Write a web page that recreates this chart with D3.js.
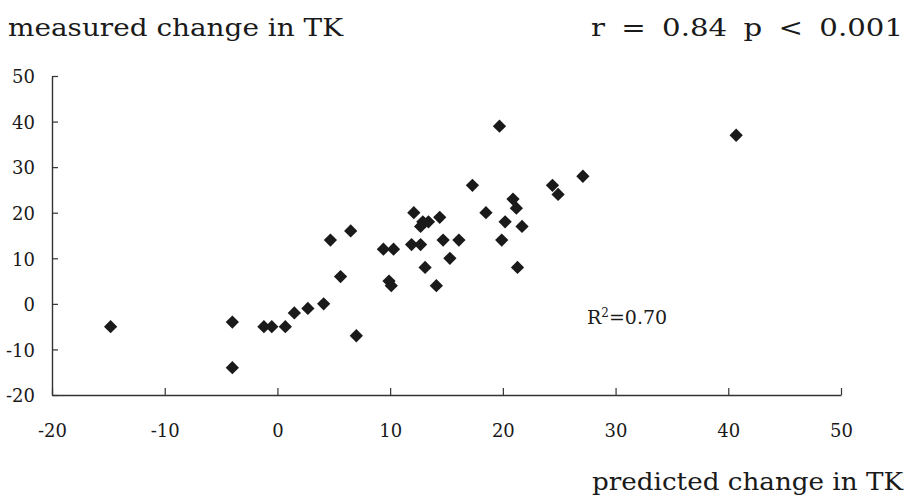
<!DOCTYPE html>
<html>
<head>
<meta charset="utf-8">
<script src="https://cdn.jsdelivr.net/npm/d3@7"></script>
<style>
  body { margin: 0; background: #fff; }
  text { font-family: "DejaVu Serif", serif; fill: #1a1a1a; }
</style>
</head>
<body>
<svg id="chart" width="915" height="499"></svg>
<script>
// predicted vs measured change in TK
const predicted = [-14.8, -4, -4, -1.2, -0.5, 0.7, 1.5, 2.7, 4.1, 7, 5.6, 4.7, 6.5, 9.4, 10.3,
  9.9, 10.1, 11.9, 12.7, 12.1, 12.9, 12.7, 13.4, 14.4, 14.7, 16.1, 15.3, 13.1, 14.1, 17.3,
  18.5, 19.7, 20.2, 19.9, 20.9, 21.2, 21.7, 21.3, 24.4, 24.9, 27.1, 40.7];
const measured = [-5, -4, -14, -5, -5, -5, -2, -1, 0, -7, 6, 14, 16, 12, 12,
  5, 4, 13, 13, 20, 18, 17, 18, 19, 14, 14, 10, 8, 4, 26,
  20, 39, 18, 14, 23, 21, 17, 8, 26, 24, 28, 37];
const xTicks = [-20, -10, 0, 10, 20, 30, 40, 50];
const yTicks = [-20, -10, 0, 10, 20, 30, 40, 50];

const svg = d3.select("#chart");

const x = d3.scaleLinear().domain([-20, 50]).range([52, 841]);
const y = d3.scaleLinear().domain([-20, 50]).range([395, 76]);

// plain hyphen for negatives, like the original
const fmt = d => String(d);

// y axis, ticks point inward
const yAxis = svg.append("g")
    .attr("transform", "translate(52,0)")
    .call(d3.axisRight(y).tickValues(yTicks).tickSize(6).tickSizeOuter(0).tickFormat(fmt));
yAxis.select(".domain").attr("stroke", "#333").attr("stroke-width", 1.4);
yAxis.selectAll(".tick line").attr("stroke", "#333").attr("stroke-width", 1.2);
yAxis.selectAll(".tick text")
    .attr("x", -17).attr("dy", "0.38em")
    .attr("text-anchor", "end")
    .style("font-size", "18px").style("font-family", "DejaVu Serif, serif");

// x axis, ticks point upward
const xAxis = svg.append("g")
    .attr("transform", "translate(0,395)")
    .call(d3.axisTop(x).tickValues(xTicks).tickSize(7).tickSizeOuter(0).tickFormat(fmt));
xAxis.select(".domain").attr("stroke", "#333").attr("stroke-width", 1.4);
xAxis.selectAll(".tick line").attr("stroke", "#333").attr("stroke-width", 1.2);
xAxis.selectAll(".tick text")
    .attr("y", 42).attr("dy", 0)
    .style("font-size", "18px").style("font-family", "DejaVu Serif, serif");
svg.selectAll(".tick text").attr("fill", "#1a1a1a");

// diamonds
const diamond = d3.symbol().type(d3.symbolSquare).size(88);
svg.append("g").selectAll("path")
  .data(predicted.map((p, i) => [p, measured[i]]))
  .join("path")
    .attr("d", diamond)
    .attr("fill", "#1a1a1a")
    .attr("transform", d => `translate(${x(d[0])},${y(d[1])}) rotate(45)`);

// labels
svg.append("text").attr("x", 8).attr("y", 36)
    .attr("textLength", 335).attr("lengthAdjust", "spacingAndGlyphs")
    .style("font-size", "25px").text("measured change in TK");
svg.append("text").attr("x", 591).attr("y", 36)
    .attr("textLength", 312).attr("lengthAdjust", "spacingAndGlyphs")
    .style("font-size", "25px").style("word-spacing", "6px").text("r = 0.84 p < 0.001");
svg.append("text").attr("x", 592).attr("y", 490)
    .attr("textLength", 311).attr("lengthAdjust", "spacingAndGlyphs")
    .style("font-size", "25px").text("predicted change in TK");

const r2 = svg.append("text").attr("x", 587).attr("y", 324).style("font-size", "19px");
r2.append("tspan").text("R");
r2.append("tspan").attr("dy", -7).style("font-size", "12px").text("2");
r2.append("tspan").attr("dy", 7).text("=0.70");
</script>
</body>
</html>
